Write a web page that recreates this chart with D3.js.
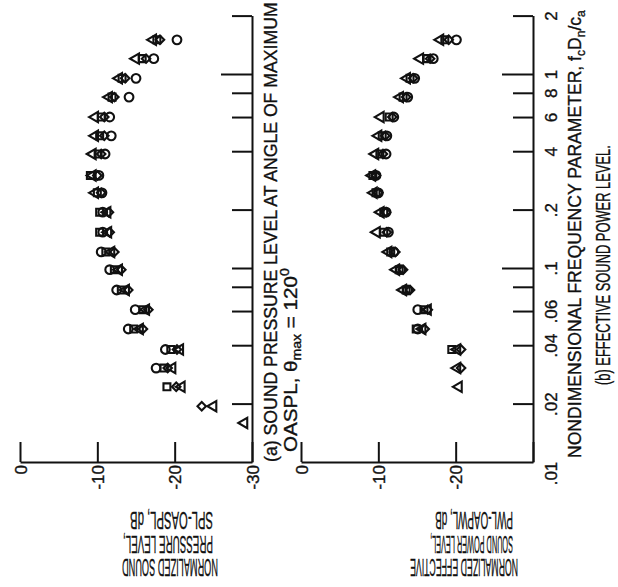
<!DOCTYPE html>
<html><head><meta charset="utf-8">
<script src="https://cdn.jsdelivr.net/npm/d3@7"></script>
<style>
html,body{margin:0;padding:0;background:#fff;}
svg{display:block;}
text{font-family:"Liberation Sans",Arial,sans-serif;fill:#111;stroke:#111;stroke-width:0.35px;}
</style></head><body>
<svg id="c" width="618" height="587"></svg>
<script>
// ---- data (nondimensional frequency, normalized levels in dB) ----
const freq = [1.5,1.2,0.95,0.76,0.6,0.48,0.387,0.3,0.244,0.194,0.153,0.121,0.098,0.077,0.061,0.0485,0.038,0.0305,0.0244,0.0194,0.0159];

// (a) SPL - OASPL at angle of maximum
const aCircle   = [-20.3,-17.3,-15.0,-14.1,-11.6,-11.8,-11.0,-10.2,-10.6,-10.7,-10.7,-10.5,-11.6,-12.5,-14.9,-14.0,-18.8,-17.6,null,null,null];
const aSquare   = [-17.7,-15.8,-13.2,-11.9,-10.5,-10.3,-10.1,-9.1,-10.0,-10.3,-10.3,-11.1,-12.2,-13.1,-15.9,-14.7,-19.5,-18.6,-19.0,null,null];
const aDiamond  = [-18.1,-16.3,-13.6,-12.2,-10.9,-10.9,-10.5,-10.0,-10.5,-11.5,-11.6,-12.2,-13.1,-14.0,-16.6,-15.9,-20.3,-19.1,-20.2,-23.5,null];
const aTriangle = [-17.2,-15.0,-12.8,-11.5,-9.7,-9.7,-9.4,-9.4,-9.7,-11.3,-11.4,-11.8,-12.8,-13.7,-16.3,-15.5,-20.7,-19.7,-20.9,-25.0,-29.0];

// (b) PWL - OAPWL, effective sound power level
const bCircle   = [-20.1,-17.1,-14.7,-13.8,-12.0,-11.1,-11.0,-9.7,-10.0,-11.0,-11.3,-12.0,-12.9,-13.8,-15.1,-15.1,null,null,null,null,null];
const bSquare   = [-18.6,-16.3,-14.1,-13.2,-11.4,-10.5,-10.2,-9.3,-9.7,-10.7,-10.7,-11.6,-12.7,-13.6,-15.9,-14.9,-19.5,null,null,null,null];
const bDiamond  = [-19.1,-16.7,-14.5,-13.6,-11.8,-10.9,-10.6,-9.7,-10.0,-11.0,-11.1,-12.2,-13.2,-14.1,-16.4,-16.0,-20.7,-20.7,null,null,null];
const bTriangle = [-18.0,-15.4,-13.7,-12.8,-10.3,-10.0,-9.6,-9.2,-9.4,-10.3,-9.8,-11.3,-12.3,-13.2,-16.4,-15.7,-20.2,-20.2,-20.4,null,null];

// ticks
const fTickValues  = [0.02,0.04,0.06,0.08,0.1,0.2,0.4,0.6,0.8,1,2];
const fLabelValues = [0.01,0.02,0.04,0.06,0.1,0.2,0.4,0.6,0.8,1,2];
const fLabels      = [".01",".02",".04",".06",".1",".2","4","6","8","1","2"];
const dbTicks   = [0,-10,-20,-30];
const dbLabelsA = ["0","-10","-20","-30"];
const dbLabelsB = ["0","-10","-20"];

// ---- drawing ----
const svg = d3.select("#c");
const ink = "#111";
const yF = d3.scaleLog().domain([0.01,2]).range([462,15.6]);
const xA = d3.scaleLinear().domain([0,-30]).range([20,252]);
const xB = d3.scaleLinear().domain([0,-30]).range([301,533]);

const symDefs = {
  circle:   {type:d3.symbolCircle,   size:60, rot:0},
  square:   {type:d3.symbolSquare,   size:48, rot:0},
  diamond:  {type:d3.symbolSquare,   size:36, rot:45},
  triangle: {type:d3.symbolTriangle, size:46, rot:-90}
};

function panel(x, series, longTicks, dbLabels){
  const g = svg.append("g").attr("color", ink);
  const fa = g.append("g").attr("transform",`translate(${x.range()[1]},0)`)
    .call(d3.axisLeft(yF).tickValues(fTickValues.filter(v=>!longTicks.includes(v))).tickSize(20).tickSizeOuter(0).tickFormat(""));
  fa.append("g").call(d3.axisLeft(yF).tickValues(longTicks).tickSize(31).tickSizeOuter(0).tickFormat(""))
    .select(".domain").remove();
  fa.selectAll("path,line").attr("stroke-width",2);
  const da = g.append("g").attr("transform","translate(0,462)")
    .call(d3.axisTop(x).tickValues(dbTicks).tickSize(20).tickSizeOuter(0).tickFormat(""));
  da.selectAll("path,line").attr("stroke-width",2);
  const dl = g.append("g").attr("transform","translate(0,462)")
    .call(d3.axisBottom(x).tickValues(dbTicks.slice(0,dbLabels.length)).tickSize(0).tickFormat((d,i)=>dbLabels[i]));
  dl.select(".domain").remove();
  dl.selectAll("text").attr("transform","rotate(-90)").attr("x",-3).attr("y",0).attr("dy","0.36em")
    .attr("text-anchor","end").style("font-size","17px").attr("fill",ink);
  series.forEach(s=>{
    const def = symDefs[s.sym];
    const gen = d3.symbol(def.type, def.size);
    g.append("g").selectAll("path").data(freq.map((f,i)=>({f, v:s.vals[i]})).filter(d=>d.v!=null))
      .join("path")
      .attr("d", gen)
      .attr("transform", d=>`translate(${x(d.v)},${yF(d.f)}) rotate(${def.rot})`)
      .attr("fill","none").attr("stroke",ink).attr("stroke-width",2.1);
  });
  return g;
}

panel(xA, [
  {sym:"circle", vals:aCircle},{sym:"square", vals:aSquare},
  {sym:"diamond", vals:aDiamond},{sym:"triangle", vals:aTriangle}], [1], dbLabelsA);
panel(xB, [
  {sym:"circle", vals:bCircle},{sym:"square", vals:bSquare},
  {sym:"diamond", vals:bDiamond},{sym:"triangle", vals:bTriangle}], [0.1,1], dbLabelsB);

// frequency tick labels (right of panel b)
const fl = svg.append("g").attr("transform","translate(533,0)")
  .call(d3.axisRight(yF).tickValues(fLabelValues).tickSize(0).tickFormat((d,i)=>fLabels[i]));
fl.select(".domain").remove();
fl.selectAll("text").attr("transform","rotate(-90)")
  .attr("x", d=> d===0.01 ? -11 : 0).attr("y",24).attr("dy",0)
  .attr("text-anchor","middle").style("font-size","17px").attr("fill",ink);

// rotated text helper: natural text is squeezed along its direction to a target length
function rtext(x, y, rot, size){
  return svg.append("text").attr("data-pos",`translate(${x},${y}) rotate(${rot})`)
    .attr("transform",`translate(${x},${y}) rotate(${rot})`)
    .attr("text-anchor","start").style("font-size",size+"px");
}
function fit(t, len){
  const L = t.node().getComputedTextLength();
  t.attr("transform", t.attr("data-pos")+` scale(${len/L},1)`);
}
fit(rtext(277,462,-90,19).text("(a) SOUND PRESSURE LEVEL AT ANGLE OF MAXIMUM"), 460);
{
  const t = rtext(297,452,-90,19);
  t.append("tspan").text("OASPL, θ");
  t.append("tspan").attr("dy",4).style("font-size","13px").text("max");
  t.append("tspan").attr("dy",-4).text(" = 120");
  t.append("tspan").attr("dy",-8).style("font-size","13px").text("0");
  fit(t, 184);
}
{
  const t = rtext(581,458,-90,19);
  t.append("tspan").text("NONDIMENSIONAL FREQUENCY PARAMETER, f");
  t.append("tspan").attr("dy",4).style("font-size","13px").text("c");
  t.append("tspan").attr("dy",-4).text("D");
  t.append("tspan").attr("dy",4).style("font-size","13px").text("n");
  t.append("tspan").attr("dy",-4).text("/c");
  t.append("tspan").attr("dy",4).style("font-size","13px").text("a");
  fit(t, 448);
}
fit(rtext(610,385,-90,21).text("(b) EFFECTIVE SOUND POWER LEVEL."), 240);

// upside-down y-axis titles
const titleA = ["NORMALIZED SOUND","PRESSURE LEVEL,","SPL-OASPL, dB"];
const titleB = ["NORMALIZED EFFECTIVE","SOUND POWER LEVEL,","PWL-OAPWL, dB"];
const lineY = [559,536,512];
[[titleA,[218,213,213],[96,90,83]],[titleB,[518,513,513],[108,83,78]]].forEach(([lines,xs,lens])=>{
  lines.forEach((s,i)=> fit(rtext(xs[i], lineY[i], 180, 23).text(s), lens[i]));
});
</script>
</body></html>
